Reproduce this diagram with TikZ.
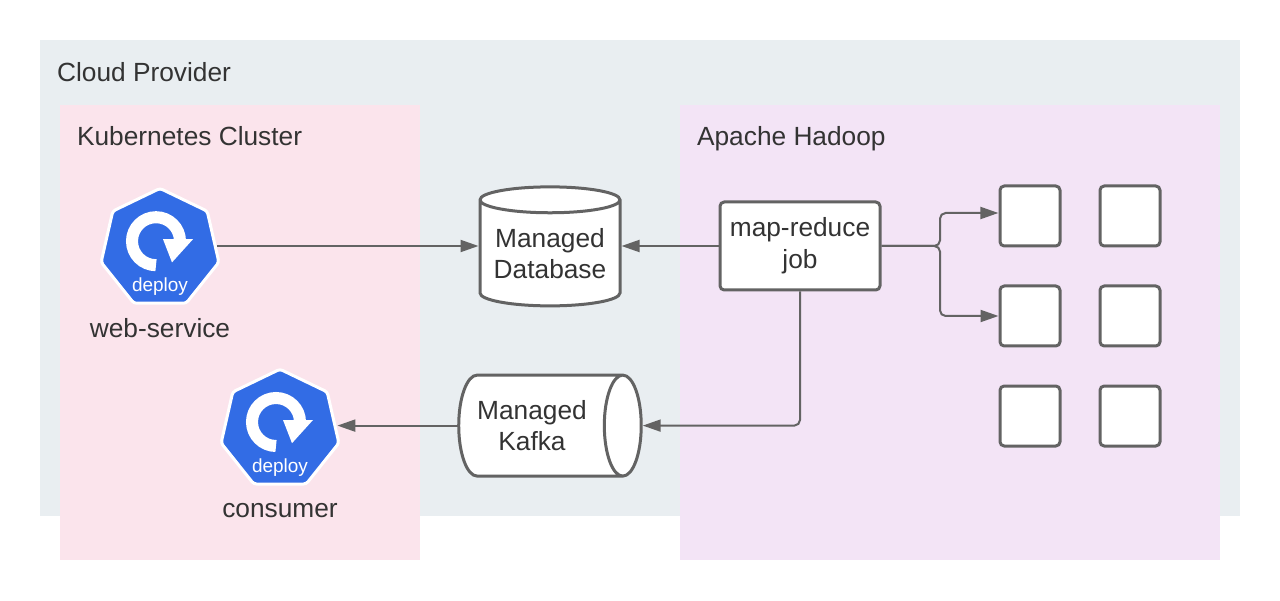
\documentclass[tikz,border=0pt]{standalone}
\usepackage{fontspec}
\setmainfont{Liberation Sans}
\usepackage{xcolor}
\usepackage{tikz}
\usetikzlibrary{shapes.geometric, arrows.meta}
\definecolor{linegray}{HTML}{636363}
\definecolor{textgray}{HTML}{333333}
\definecolor{cloudbg}{HTML}{E9EEF1}
\definecolor{clusterbg}{HTML}{FBE4EC}
\definecolor{hadoopbg}{HTML}{F3E4F6}
\definecolor{deployblue}{HTML}{326CE5}

\begin{document}
\begin{tikzpicture}[
        >={Triangle[length=0.45cm, width=0.3cm]},
        region/.style={rectangle, inner sep=0pt},
        title/.style={anchor=base west, inner sep=0pt, text=textgray, font=\fontsize{18.7}{22.75}\selectfont},
        label/.style={anchor=base, inner sep=0pt, align=center, text=textgray, font=\fontsize{18.7}{22.75}\selectfont},
        box/.style={rectangle, draw=linegray, line width=0.075cm, rounded corners=3pt, fill=white, inner sep=0pt, align=center, text=textgray, font=\fontsize{18.7}{22.75}\selectfont},
        worker/.style={box, minimum width=1.5cm, minimum height=1.5cm},
        store/.style={cylinder, draw=linegray, line width=0.075cm, cylinder uses custom fill, cylinder body fill=white, cylinder end fill=white, inner sep=0pt, align=center, text=textgray, font=\fontsize{18.7}{22.75}\selectfont},
        flow/.style={->, draw=linegray, line width=0.05cm},
        deploy/.pic={
            \node[regular polygon, regular polygon sides=7, minimum size=3.02cm, inner sep=0pt, fill=deployblue, draw=white, line width=0.075cm, rounded corners=2pt] (_hex) at (0, 0) {};
            \draw[white, line width=0.3cm] (-0.1, -0.41) arc (270:0:0.6);
            \fill[white] (0.075, 0.24) -- (0.825, 0.24) -- (0.3, -0.34) -- cycle;
            \node[text=white, inner sep=0pt, font=\fontsize{13.5}{16}\selectfont] (_tag) at (0, -0.94) {deploy};
        }
    ]
        \useasboundingbox (0, 0) rectangle (32, 15);

        % Background regions
        \node[region, fill=cloudbg, minimum width=30cm, minimum height=11.9cm] (cloud) at (16, 8.05) {};
        \node[region, fill=clusterbg, minimum width=9cm, minimum height=11.375cm] (cluster) at (6, 6.6875) {};
        \node[region, fill=hadoopbg, minimum width=13.5cm, minimum height=11.375cm] (hadoop) at (23.75, 6.6875) {};
        \node[title] (cloud_label) at (1.42, 12.95) {Cloud Provider};
        \node[title] (cluster_label) at (1.92, 11.36) {Kubernetes Cluster};
        \node[title] (hadoop_label) at (17.42, 11.36) {Apache Hadoop};

        % Deployments
        \pic (web) at (4, 8.78) {deploy};
        \node[label] (web_label) at (4, 6.55) {web-service};
        \pic (consumer) at (7, 4.26) {deploy};
        \node[label] (consumer_label) at (7, 2.06) {consumer};

        % Managed services
        \node[store, shape border rotate=90, aspect=0.23, minimum height=2.975cm, minimum width=3.5cm] (database) at (13.75, 8.66) {Managed\\Database};
        \node[store, aspect=0.72, minimum height=4.5cm, minimum width=2.525cm] (kafka) at (13.5, 4.36) {Managed\hspace*{0.4cm}\\Kafka\hspace*{0.4cm}};

        % Hadoop
        \node[box, minimum width=4cm, minimum height=2.2cm] (job) at (20, 8.85) {map-reduce\\job};
        \node[worker] (worker_a) at (25.75, 9.6) {};
        \node[worker] (worker_b) at (28.25, 9.6) {};
        \node[worker] (worker_c) at (25.75, 7.1) {};
        \node[worker] (worker_d) at (28.25, 7.1) {};
        \node[worker] (worker_e) at (25.75, 4.6) {};
        \node[worker] (worker_f) at (28.25, 4.6) {};
        \coordinate (worker_a_in) at (24.96, 9.675);

        % Connections
        \draw[flow] (web_hex.east |- job.west) -- (database.west |- job.west);
        \draw[flow] (job.west) -- (database.east |- job.west);
        \draw[flow] (kafka.west) -- (consumer_hex.east |- kafka.west);
        \draw[flow, rounded corners=4pt] (job.south) |- (kafka.east);
        \draw[flow, rounded corners=4pt] (job.east) -| (23.5, 9.675) -- (worker_a_in);
        \draw[flow, rounded corners=4pt] (job.east) -| (23.5, 7.1) -- (worker_c.west);
    \end{tikzpicture}
\end{document}
